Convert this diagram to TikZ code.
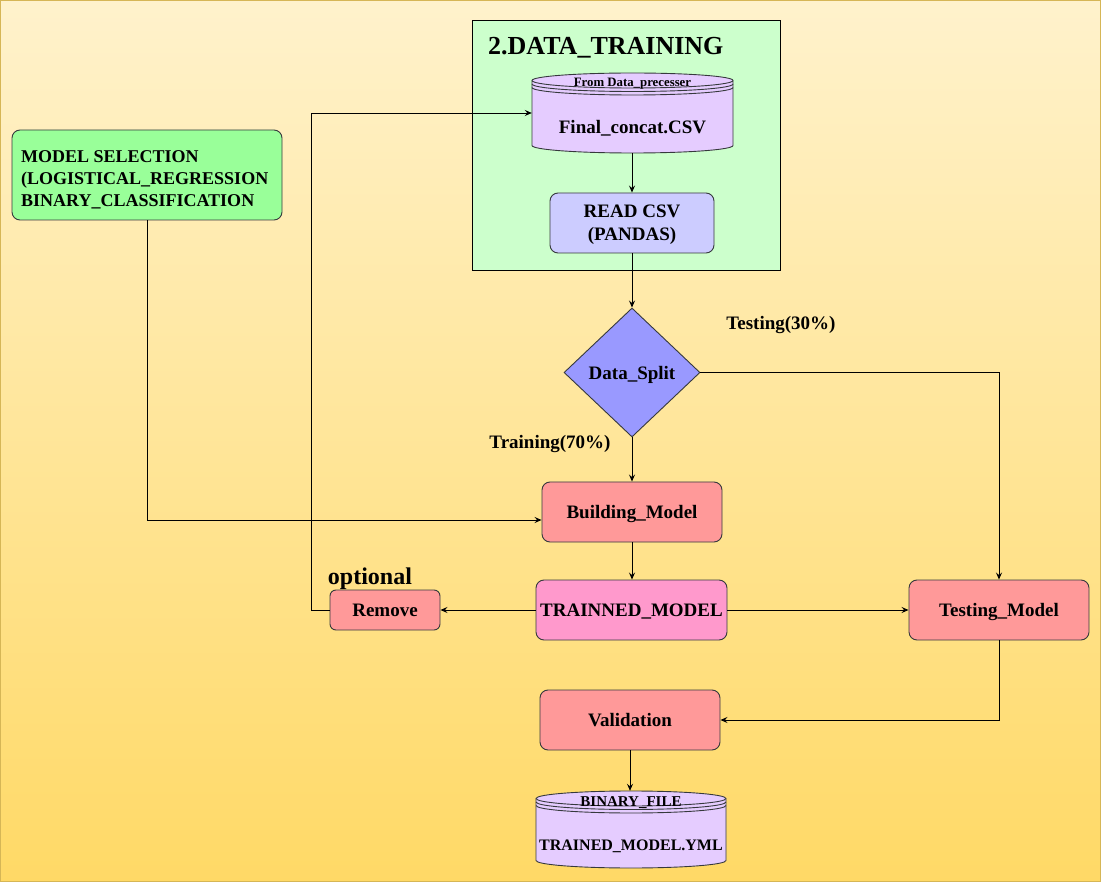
\documentclass[tikz,border=0pt]{standalone}
\usepackage{fontspec}
\setmainfont{Liberation Serif}
\usetikzlibrary{arrows.meta,shapes.geometric}
\definecolor{bgtop}{HTML}{FFF2CC}
\definecolor{bgbot}{HTML}{FFD966}
\definecolor{bgline}{HTML}{D6B656}
\definecolor{greenpanel}{HTML}{CCFFCC}
\definecolor{cylfill}{HTML}{E5CCFF}
\definecolor{readfill}{HTML}{CCCCFF}
\definecolor{diafill}{HTML}{9999FF}
\definecolor{redfill}{HTML}{FF9999}
\definecolor{pinkfill}{HTML}{FF99CC}
\definecolor{selfill}{HTML}{99FF99}
\definecolor{edge}{HTML}{36393D}
\tikzset{
  box/.style={draw=edge, line width=0.9pt, rounded corners=8pt, inner sep=0pt, font=\bfseries\fontsize{19}{22}\selectfont, align=center},
  onel/.style={text height=12.5pt, text depth=0pt},
  lbl/.style={font=\bfseries\fontsize{19}{22}\selectfont, inner sep=0pt, text height=12.5pt, text depth=0pt},
  conn/.style={draw=black, line width=0.9pt, -{Stealth[length=7pt,width=6pt,inset=2.5pt]}},
}
\newcommand{\datastore}[5]{%
  % #1 x1, #2 y1, #3 x2, #4 y2, #5 ry
  \pgfmathsetmacro{\rxx}{(#3-#1)/2}%
  \filldraw[fill=cylfill, draw=edge, line width=0.9pt]
    (#1,#2+#5) -- (#1,#4-#5) arc[start angle=180,end angle=0,x radius=\rxx,y radius=#5]
    -- (#3,#2+#5) arc[start angle=0,end angle=-180,x radius=\rxx,y radius=#5] -- cycle;
  \draw[draw=edge, line width=0.9pt] (#1,#2+#5) arc[start angle=180,end angle=0,x radius=\rxx,y radius=#5];
  \draw[draw=edge, line width=0.9pt] (#1,#2+#5+3.5) arc[start angle=180,end angle=0,x radius=\rxx,y radius=#5];
  \draw[draw=edge, line width=0.9pt] (#1,#2+#5+7) arc[start angle=180,end angle=0,x radius=\rxx,y radius=#5];
}
\begin{document}
\begin{tikzpicture}[x=1pt,y=-1pt]
\useasboundingbox (0,0) rectangle (1101,882);
\shade[top color=bgtop, bottom color=bgbot] (0,0) rectangle (1101,882);
\draw[bgline, line width=1pt] (0.5,0.5) rectangle (1100.5,881.5);

% Data training panel
\node[draw=black, fill=greenpanel, line width=0.9pt, minimum width=308pt, minimum height=250pt, inner sep=0pt, anchor=north west] (panel) at (472,20) {};
\node[font=\bfseries\fontsize{26}{30}\selectfont, anchor=west, inner sep=0pt, text height=17pt, text depth=0pt] (title) at (488,46) {2.DATA\_TRAINING};

% Final concat cylinder
\datastore{532}{73}{733}{153}{7.5}
\node[minimum width=201pt, minimum height=80pt, inner sep=0pt] (csv) at (632.5,113) {};
\node[font=\bfseries\fontsize{12.8}{15}\selectfont, inner sep=0pt, text height=8.5pt, text depth=0pt] (csvtop) at (632.5,82) {From Data\_precesser};
\node[lbl] (csvtxt) at (632.5,127) {Final\_concat.CSV};

\node[box, fill=readfill, minimum width=164pt, minimum height=60pt] (read) at (632,223) {};
\node[align=center, inner sep=0pt, font=\bfseries\fontsize{19}{23}\selectfont] (readtxt) at (632,225) {READ CSV\\(PANDAS)};

\node[diamond, draw=edge, line width=0.9pt, fill=diafill, minimum width=136pt, minimum height=129pt, inner sep=0pt] (split) at (632,372.5) {};
\node[lbl] (splittxt) at (632,373) {Data\_Split};

\node[lbl] (testlbl) at (781,323) {Testing(30\%)};
\node[lbl] (trainlbl) at (550,442) {Training(70\%)};

\node[box, fill=selfill, minimum width=270pt, minimum height=90pt] (sel) at (147,175) {};
\node[anchor=west, align=left, inner sep=0pt, font=\bfseries\fontsize{18}{22}\selectfont] (seltxt) at (21,180) {MODEL SELECTION\\(LOGISTICAL\_REGRESSION\\BINARY\_CLASSIFICATION};

\node[box, onel, fill=redfill, minimum width=180pt, minimum height=60pt] (build) at (632,512) {Building\_Model};
\node[box, onel, fill=pinkfill, minimum width=191pt, minimum height=60pt] (trained) at (631.5,610) {TRAINNED\_MODEL};
\node[box, onel, fill=redfill, minimum width=110pt, minimum height=40pt, rounded corners=6pt] (remove) at (385,610) {Remove};
\node[font=\bfseries\fontsize{24}{28}\selectfont, inner sep=0pt] (optional) at (370,579) {optional};
\node[box, onel, fill=redfill, minimum width=180pt, minimum height=60pt] (testm) at (999,610) {Testing\_Model};
\node[box, onel, fill=redfill, minimum width=180pt, minimum height=60pt] (valid) at (630,720) {Validation};

% Binary file cylinder
\datastore{536}{791}{726}{868}{7.5}
\node[minimum width=190pt, minimum height=77pt, inner sep=0pt] (bin) at (631,829.5) {};
\node[font=\bfseries\fontsize{15}{17}\selectfont, inner sep=0pt, text height=10pt, text depth=0pt] (bintop) at (631,801) {BINARY\_FILE};
\node[font=\bfseries\fontsize{16}{19}\selectfont, inner sep=0pt, text height=10.5pt, text depth=0pt] (bintxt) at (631,845) {TRAINED\_MODEL.YML};

% connectors
\draw[conn] (csv.south -| read.north) -- (read.north);
\draw[conn] (read.south) -- (split.north);
\draw[conn] (split.south) -- (build.north);
\draw[conn] (split.east) -| (testm.north);
\draw[conn] (sel.south) |- ([yshift=-8pt]build.west);
\draw[conn] (build.south) -- (trained.north -| build.south);
\draw[conn] (trained.west) -- (remove.east);
\draw[conn] (trained.east) -- (testm.west);
\draw[conn] (remove.west) -- (311,610) |- (csv.west);
\draw[conn] (testm.south) |- (valid.east);
\draw[conn] (valid.south) -- (bin.north -| valid.south);
\end{tikzpicture}
\end{document}
